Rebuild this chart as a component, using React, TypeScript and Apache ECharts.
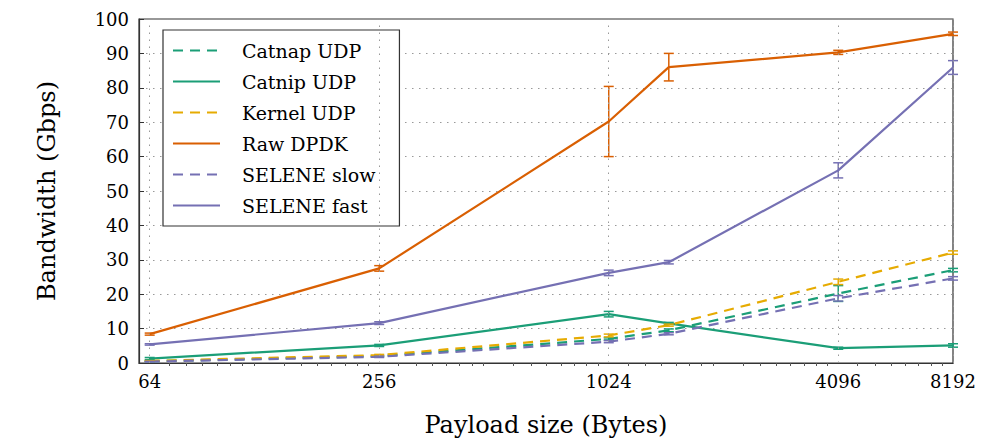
import React, { useEffect, useRef } from "react";
import * as echarts from "echarts";

// Payload sizes (Bytes)
const payloadSizes = [64, 256, 1024, 1472, 4096, 8192];
const xTickLabels = [64, 256, 1024, 4096, 8192];

// Bandwidth (Gbps)
const catnapUdp = [0.5, 2.0, 7.0, 9.5, 20.2, 27.0];
const catnipUdp = [1.3, 5.1, 14.2, 11.5, 4.3, 5.1];
const kernelUdp = [0.6, 2.3, 8.0, 11.0, 23.6, 32.1];
const rawDpdk = [8.4, 27.5, 70.2, 86.0, 90.3, 95.7];
const seleneSlow = [0.4, 1.8, 6.2, 8.5, 18.8, 24.6];
const seleneFast = [5.4, 11.6, 26.2, 29.3, 56.0, 85.9];

// Error (+/-)
const catnapErr = [0.1, 0.2, 0.3, 0.4, 2.3, 0.5];
const catnipErr = [0.3, 0.3, 0.8, 0.3, 0.3, 0.5];
const kernelErr = [0.1, 0.2, 0.4, 0.3, 0.8, 0.5];
const rawDpdkErr = [0.3, 0.8, 10.2, 4.0, 0.6, 0.5];
const seleneSlowErr = [0.1, 0.2, 0.3, 0.3, 0.8, 0.5];
const seleneFastErr = [0.2, 0.4, 0.8, 0.5, 2.2, 2.0];

const FONT = "DejaVu Serif";
const GREEN = "#1b9e77";
const ORANGE = "#d95f02";
const YELLOW = "#e6ab02";
const PURPLE = "#7570b3";

const seriesDefs = [
  { name: "Catnap UDP", values: catnapUdp, err: catnapErr, color: GREEN, dashed: true },
  { name: "Catnip UDP", values: catnipUdp, err: catnipErr, color: GREEN, dashed: false },
  { name: "Kernel UDP", values: kernelUdp, err: kernelErr, color: YELLOW, dashed: true },
  { name: "Raw DPDK", values: rawDpdk, err: rawDpdkErr, color: ORANGE, dashed: false },
  { name: "SELENE slow", values: seleneSlow, err: seleneSlowErr, color: PURPLE, dashed: true },
  { name: "SELENE fast", values: seleneFast, err: seleneFastErr, color: PURPLE, dashed: false },
];

export default function App() {
  const ref = useRef<HTMLDivElement>(null);
  useEffect(() => {
    document.body.style.margin = "0";
    const chart = echarts.init(ref.current!, null, { renderer: "svg" });

    const lineSeries = seriesDefs.map((d) => ({
      name: d.name,
      type: "line",
      symbol: "none",
      z: 3,
      data: payloadSizes.map((x, i) => [x, d.values[i]]),
      lineStyle: { color: d.color, width: 2.2, type: d.dashed ? [10, 7] : "solid" },
      itemStyle: { color: d.color },
    }));

    const errSeries = seriesDefs.map((d) => ({
      name: d.name + " err",
      type: "custom",
      z: 4,
      data: payloadSizes.map((x, i) => [x, d.values[i] - d.err[i], d.values[i] + d.err[i]]),
      encode: { x: 0, y: [1, 2] },
      renderItem: (params: any, api: any) => {
        const x = api.value(0);
        const lo = api.value(1);
        const hi = api.value(2);
        const top = api.coord([x, hi]);
        const bot = api.coord([x, lo]);
        const hw = 5;
        const style = { stroke: d.color, lineWidth: 1.5, fill: "none" };
        return {
          type: "group",
          children: [
            { type: "line", shape: { x1: top[0], y1: top[1], x2: bot[0], y2: bot[1] }, style },
            { type: "line", shape: { x1: top[0] - hw, y1: top[1], x2: top[0] + hw, y2: top[1] }, style },
            { type: "line", shape: { x1: bot[0] - hw, y1: bot[1], x2: bot[0] + hw, y2: bot[1] }, style },
          ],
        };
      },
    }));

    const gridSeries = {
      name: "xgrid",
      type: "line",
      data: [],
      z: 1,
      markLine: {
        silent: true,
        symbol: "none",
        label: { show: false },
        lineStyle: { color: "#999", width: 1, type: [1.5, 5.5] },
        data: xTickLabels.map((v) => ({ xAxis: v })),
      },
    };

    chart.setOption({
      animation: false,
      backgroundColor: "#fff",
      grid: {
        left: 139,
        right: 37,
        top: 19,
        bottom: 77,
        show: true,
        borderColor: "#333",
        borderWidth: 1.2,
      },
      legend: {
        data: seriesDefs.map((d) => d.name),
        orient: "vertical",
        left: 163,
        top: 30,
        itemWidth: 47,
        itemHeight: 14,
        itemGap: 12,
        padding: [11, 24, 11, 9],
        backgroundColor: "#fff",
        borderColor: "#333",
        borderWidth: 1.2,
        itemStyle: { opacity: 0, color: "transparent", borderWidth: 0 },
        textStyle: { fontFamily: FONT, fontSize: 19, color: "#000", padding: [0, 0, 0, 17] },
      },
      xAxis: {
        type: "log",
        logBase: 2,
        min: 60,
        max: 8192,
        name: "Payload size (Bytes)",
        nameLocation: "middle",
        nameGap: 50,
        nameTextStyle: { fontFamily: FONT, fontSize: 24, color: "#000" },
        axisLine: { show: true, lineStyle: { color: "#333", width: 1.2 } },
        axisTick: { show: false },
        minorTick: { show: true, splitNumber: 8, length: 3, lineStyle: { color: "#555" } },
        splitLine: { show: false },
        axisLabel: {
          fontFamily: FONT,
          fontSize: 18,
          color: "#000",
          margin: 9,
          formatter: (v: number) => (xTickLabels.includes(Math.round(v)) ? String(Math.round(v)) : ""),
        },
      },
      yAxis: {
        type: "value",
        min: 0,
        max: 100,
        interval: 10,
        name: "Bandwidth (Gbps)",
        nameLocation: "middle",
        nameGap: 80,
        nameTextStyle: { fontFamily: FONT, fontSize: 24, color: "#000" },
        axisLine: { show: true, lineStyle: { color: "#333", width: 1.2 } },
        axisTick: { show: true, inside: true, length: 5, lineStyle: { color: "#333" } },
        splitLine: { show: true, lineStyle: { color: "#999", width: 1, type: [1.5, 5.5] } },
        axisLabel: { fontFamily: FONT, fontSize: 18, color: "#000", margin: 10 },
      },
      series: [gridSeries, ...lineSeries, ...errSeries],
    });

    return () => chart.dispose();
  }, []);
  return <div ref={ref} style={{ width: 990, height: 442 }} />;
}
